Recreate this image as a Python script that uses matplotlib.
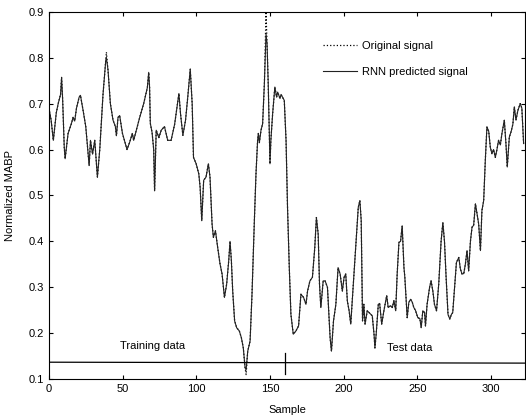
import matplotlib
matplotlib.use('Agg')
import matplotlib.pyplot as plt

plt.rcParams['font.family'] = ['Liberation Sans', 'DejaVu Sans']

# muestras y valores (senal original)
muestra = [0, 1.5, 3.0, 5.0, 6.3, 7.9, 8.6, 9.3, 10.4, 11.0, 13.0, 15.3, 16.4, 17.5, 18.7,
           20.5, 21.4, 23.2, 25.0, 26.6, 27.3, 28.2, 29.6, 31.1, 32.9, 34.5, 36.7, 38.6, 39.0,
           40.1, 41.7, 43.5, 45.1, 45.8, 46.9, 48.0, 49.9, 53.0, 54.8, 56.6, 57.5, 59.3, 61.6,
           64.3, 66.8, 67.7, 68.3, 68.8, 70.0, 71.1, 71.7, 72.8, 74.6, 76.2, 78.4, 80.6, 82.9,
           85.3, 88.2, 89.3, 90.9, 92.7, 94.2, 95.9, 97.2, 98.1, 99.9, 101.7, 102.6, 103.7,
           105.0, 106.6, 108.2, 109.3, 110.7, 111.6, 113.0, 114.5, 116.1, 117.5, 119.1, 120.6,
           122.0, 122.9, 123.8, 124.7, 126.0, 127.4, 129.2, 130.6, 131.9, 133.1, 133.8, 134.9,
           136.5, 137.8, 139.4, 140.5, 141.6, 142.1, 142.8, 143.9, 145.0, 146.2, 147.3, 148.0,
           148.8, 150.0, 150.6, 151.8, 153.3, 154.5, 155.2, 156.8, 157.5, 159.7, 160.9, 161.9,
           163.1, 164.2, 165.8, 167.6, 169.4, 171.0, 172.8, 174.4, 175.5, 177.1, 178.8, 180.4,
           181.5, 182.7, 183.6, 184.5, 186.1, 187.4, 189.0, 190.8, 191.7, 193.1, 194.7, 196.2,
           197.6, 199.1, 200.3, 201.4, 202.5, 203.7, 204.8, 206.4, 208.2, 209.9, 211.0, 211.9,
           212.8, 213.7, 214.5, 216.0, 219.4, 220.6, 221.2, 222.1, 223.5, 224.4, 225.8, 227.3,
           229.2, 230.2, 231.9, 233.0, 234.1, 235.3, 236.3, 237.5, 238.6, 239.7, 240.9, 241.5,
           243.1, 244.2, 245.4, 246.5, 247.6, 248.7, 250.3, 251.7, 252.6, 253.7, 254.9, 255.5,
           256.6, 258.3, 259.3, 260.5, 261.6, 263.0, 264.5, 266.1, 267.3, 268.4, 269.5, 270.8,
           272.0, 273.1, 274.0, 275.4, 276.5, 278.1, 279.2, 280.3, 281.5, 282.6, 283.7, 284.8,
           286.0, 287.1, 288.2, 289.4, 290.5, 291.6, 292.8, 293.8, 295.0, 296.1, 297.2, 298.4,
           299.5, 300.6, 301.7, 302.9, 304.0, 305.1, 306.3, 307.4, 309.0, 310.1, 311.0, 312.4,
           313.7, 314.8, 315.8, 316.9, 318.2, 319.8, 320.9, 322.1]
original = [0.69, 0.664, 0.62, 0.68, 0.70, 0.72, 0.757, 0.71, 0.605, 0.58, 0.635, 0.657, 0.67, 0.662, 0.69,
            0.714, 0.718, 0.685, 0.65, 0.59, 0.565, 0.62, 0.59, 0.62, 0.54, 0.60, 0.72, 0.795, 0.812,
            0.773, 0.70, 0.664, 0.65, 0.63, 0.67, 0.674, 0.635, 0.60, 0.616, 0.635, 0.62, 0.642, 0.67,
            0.70, 0.735, 0.768, 0.736, 0.657, 0.637, 0.60, 0.51, 0.642, 0.626, 0.642, 0.65, 0.62, 0.62,
            0.655, 0.722, 0.678, 0.631, 0.664, 0.714, 0.775, 0.70, 0.583, 0.569, 0.547, 0.518, 0.445,
            0.533, 0.54, 0.569, 0.54, 0.438, 0.409, 0.423, 0.387, 0.351, 0.329, 0.278, 0.307,
            0.358, 0.40, 0.358, 0.292, 0.227, 0.212, 0.205, 0.19, 0.168, 0.125, 0.11, 0.161,
            0.183, 0.285, 0.445, 0.547, 0.62, 0.635, 0.615, 0.642, 0.656, 0.744, 0.9, 0.831,
            0.744, 0.569, 0.62, 0.678, 0.736, 0.714, 0.725, 0.711, 0.72, 0.707, 0.62, 0.474,
            0.343, 0.241, 0.198, 0.205, 0.216, 0.285, 0.278, 0.263, 0.292, 0.314, 0.322, 0.387,
            0.452, 0.416, 0.307, 0.256, 0.314, 0.314, 0.30, 0.19, 0.161, 0.227, 0.263, 0.343,
            0.329, 0.292, 0.322, 0.329, 0.27, 0.249, 0.22, 0.30, 0.387, 0.474, 0.489, 0.445,
            0.227, 0.263, 0.22, 0.249, 0.238, 0.198, 0.168, 0.20, 0.263, 0.265, 0.22, 0.249,
            0.282, 0.256, 0.26, 0.256, 0.271, 0.249, 0.329, 0.398, 0.40, 0.434, 0.343, 0.322,
            0.234, 0.267, 0.274, 0.268, 0.256, 0.25, 0.234, 0.232, 0.212, 0.249, 0.245, 0.216,
            0.263, 0.30, 0.314, 0.292, 0.263, 0.249, 0.307, 0.40, 0.441, 0.40, 0.322, 0.241,
            0.231, 0.241, 0.245, 0.307, 0.354, 0.365, 0.34, 0.329, 0.33, 0.351, 0.38, 0.336,
            0.40, 0.431, 0.435, 0.482, 0.46, 0.438, 0.38, 0.467, 0.489, 0.576, 0.649, 0.64,
            0.605, 0.591, 0.60, 0.583, 0.60, 0.62, 0.61, 0.635, 0.664, 0.613, 0.562, 0.627,
            0.64, 0.655, 0.693, 0.664, 0.685, 0.70, 0.69, 0.613]

# la prediccion casi coincide; solo difiere en los picos
prediccion = list(original)
cambios = {147.3: 0.852, 39.0: 0.80, 133.8: 0.12}
for i in range(len(muestra)):
    if muestra[i] in cambios:
        prediccion[i] = cambios[muestra[i]]

fig = plt.figure(figsize=(5.26, 4.19), dpi=100)
ax = fig.add_axes([0.093, 0.095, 0.905, 0.877])

ax.plot(muestra, original, ':', color='black', lw=0.9, label='Original signal')
ax.plot(muestra, prediccion, '-', color='#222222', lw=0.8, label='RNN predicted signal')

# linea que separa entrenamiento y prueba
ax.plot([0, 323], [0.137, 0.135], '-', color='black', lw=0.9)
ax.plot([160, 160], [0.112, 0.158], '-', color='black', lw=0.9)
ax.text(70, 0.172, 'Training data', ha='center', va='center', fontsize=8)
ax.text(245, 0.168, 'Test data', ha='center', va='center', fontsize=8)

ax.set_xlim(0, 323)
ax.set_ylim(0.1, 0.9)
ax.set_xticks([0, 50, 100, 150, 200, 250, 300])
ax.set_yticks([0.1, 0.2, 0.3, 0.4, 0.5, 0.6, 0.7, 0.8, 0.9])
ax.set_yticklabels(['0.1', '0.2', '0.3', '0.4', '0.5', '0.6', '0.7', '0.8', '0.9'])
ax.tick_params(direction='in', top=True, right=True, length=3, labelsize=8)
ax.set_xlabel('Sample', fontsize=8, labelpad=8)
ax.set_ylabel('Normalized MABP', fontsize=8, labelpad=10)

ax.legend(loc='upper left', bbox_to_anchor=(0.575, 0.92), borderaxespad=0, borderpad=0,
          frameon=False, fontsize=8, handlelength=3.1, handletextpad=0.45, labelspacing=1.45)

fig.savefig('out.png', dpi=100)
